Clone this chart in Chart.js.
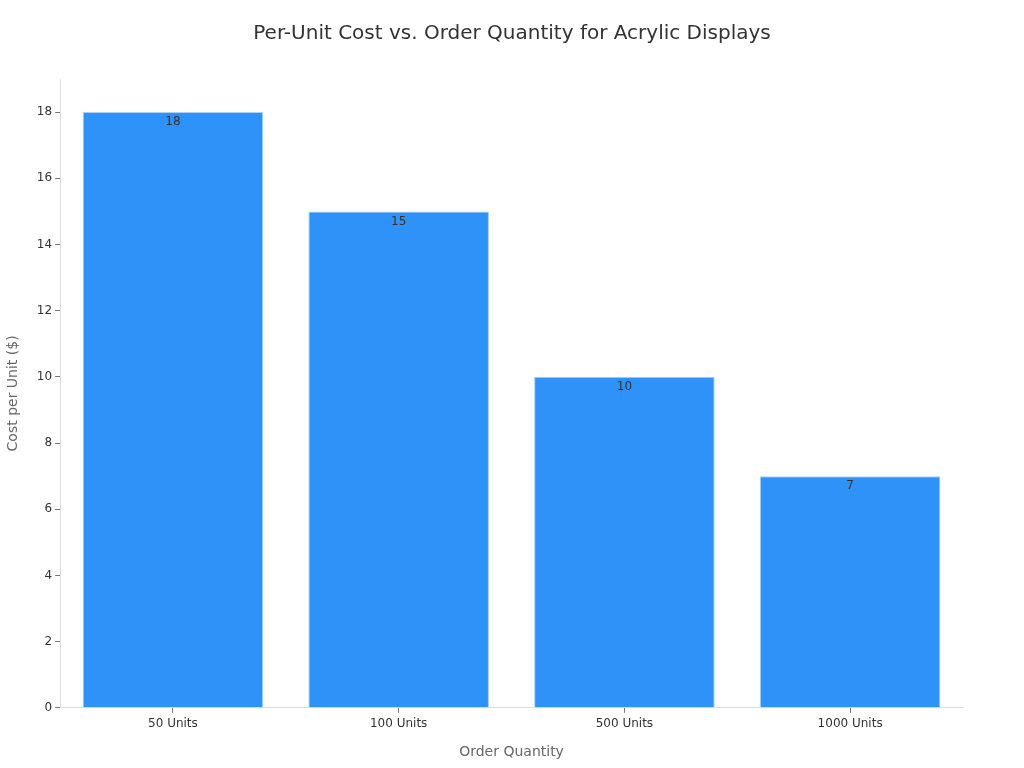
<!DOCTYPE html>
<html>
<head>
<meta charset="utf-8">
<script src="https://cdn.jsdelivr.net/npm/chart.js@4"></script>
<style>
html,body{margin:0;padding:0;background:#fff;}
#wrap{width:1024px;height:768px;}
</style>
</head>
<body>
<div id="wrap"><canvas id="c" width="1024" height="768"></canvas></div>
<script>
const categories = ["50 Units", "100 Units", "500 Units", "1000 Units"];
const costPerUnit = [18, 15, 10, 7];
const yTicks = [0, 2, 4, 6, 8, 10, 12, 14, 16, 18];
const chartTitle = 'Per-Unit Cost vs. Order Quantity for Acrylic Displays';

const FONT = "'DejaVu Sans', sans-serif";

const valueLabels = {
  id: 'valueLabels',
  afterDatasetsDraw(chart) {
    const ctx = chart.ctx;
    const meta = chart.getDatasetMeta(0);
    ctx.save();
    ctx.font = "12px " + FONT;
    ctx.fillStyle = "#333";
    ctx.textAlign = "center";
    ctx.textBaseline = "top";
    meta.data.forEach((bar, i) => {
      ctx.fillText(String(costPerUnit[i]), bar.x, bar.y + 4);
    });
    ctx.restore();
  }
};

const centerTitle = {
  id: 'centerTitle',
  afterDraw(chart) {
    const ctx = chart.ctx;
    ctx.save();
    ctx.font = "20px " + FONT;
    ctx.fillStyle = "#333";
    ctx.textAlign = "center";
    ctx.textBaseline = "middle";
    ctx.fillText(chartTitle, chart.width / 2, 34);
    ctx.restore();
  }
};

new Chart(document.getElementById('c'), {
  type: 'bar',
  data: {
    labels: categories,
    datasets: [{
      data: costPerUnit,
      backgroundColor: '#2F92F8',
      borderColor: '#A9D1FB',
      borderWidth: 1,
      barPercentage: 0.8,
      categoryPercentage: 1.0
    }]
  },
  options: {
    responsive: false,
    animation: false,
    devicePixelRatio: 1,
    layout: { padding: { left: 5, right: 61, top: 79, bottom: 7 } },
    plugins: {
      legend: { display: false },
      tooltip: { enabled: false },
      title: { display: false }
    },
    scales: {
      x: {
        grid: { display: true, offset: false, drawOnChartArea: false, drawTicks: true, tickLength: 5, color: '#777' },
        border: { display: true, color: '#ddd' },
        ticks: { color: '#333', font: { family: FONT, size: 12 }, padding: 4 },
        title: { display: true, text: 'Order Quantity', color: '#666', font: { family: FONT, size: 14 }, padding: { top: 9, bottom: 0 } }
      },
      y: {
        min: 0,
        max: 19,
        afterBuildTicks(axis) { axis.ticks = yTicks.map(v => ({ value: v })); },
        grid: { display: true, drawOnChartArea: false, drawTicks: true, tickLength: 5, color: '#777' },
        border: { display: true, color: '#ddd' },
        ticks: { color: '#333', font: { family: FONT, size: 12 }, padding: 3 },
        title: { display: true, text: 'Cost per Unit ($)', color: '#666', font: { family: FONT, size: 14 }, padding: { top: 0, bottom: 12 } }
      }
    }
  },
  plugins: [valueLabels, centerTitle]
});
</script>
</body>
</html>
